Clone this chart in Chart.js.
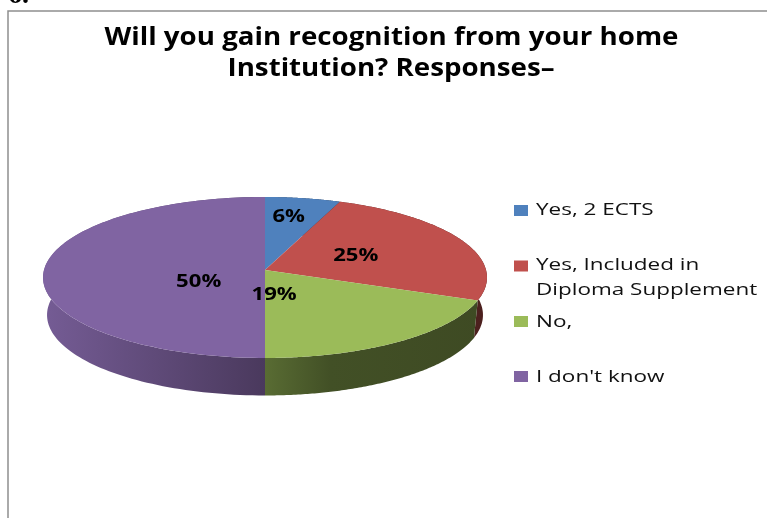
<!DOCTYPE html>
<html><head><meta charset="utf-8">
<style>html,body{margin:0;padding:0;background:#fff;overflow:hidden}canvas{display:block;filter:blur(.4px)}</style>
<script src="https://cdn.jsdelivr.net/npm/chart.js@4"></script></head>
<body><canvas id="c" width="767" height="518"></canvas>
<script>
const categories = [["Yes, 2 ECTS"], ["Yes, Included in", "Diploma Supplement"], ["No,"], ["I don't know"]];
const seriesValues = [6, 25, 19, 50];
const seriesColors = ["#4f81bd", "#c0504d", "#9bbb59", "#8064a2"];
const titleLines = ["Will you gain recognition from your home", "Institution? Responses\u2013"];

// perspective of the tilted disc
const P = { a: 79.8, b: 0.093, c: 221, depth: 37.5, shrink: 0.982 };
function project(el, u, v) {
  const d = 1 - P.b * v;
  return [el.x + P.c * u / d, el.y + P.a * v / d];
}
function rim(el, ang) { return project(el, Math.cos(ang), Math.sin(ang)); }
function shade(hex, f) {
  const n = parseInt(hex.slice(1), 16);
  return `rgb(${((n>>16)&255)*f|0},${((n>>8)&255)*f|0},${(n&255)*f|0})`;
}
const labelStyle = [
  { r: .74, dx: -5, dy: 1 }, { r: .46, dx: -1, dy: 0 }, { r: .3, dx: -29, dy: 5 }, { r: .3, dx: 0, dy: 12 }
];
const legendRows = [{ y: 210.5, sw: 210.5 }, { y: 266, sw: 266 }, { y: 322.5, sw: 321.5 }, { y: 377.5, sw: 376.5 }];
const titleCenters = [391.5, 391];

function stretched(ctx, text, x, y, sx, align) {
  ctx.save();
  ctx.translate(x, y);
  ctx.scale(sx, 1);
  ctx.textAlign = align;
  ctx.textBaseline = "middle";
  ctx.fillText(text, 0, 0);
  ctx.restore();
}

const pie3d = {
  id: "pie3d",
  beforeDatasetsDraw(chart) {
    const ctx = chart.ctx;
    const arcs = chart.getDatasetMeta(0).data;
    const stops = [[43, .92], [265, .58], [330, .43], [487, .40]];
    arcs.forEach((el, i) => {
      const col = chart.data.datasets[0].backgroundColor[i];
      const g = ctx.createLinearGradient(43, 0, 487, 0);
      stops.forEach(s => g.addColorStop((s[0] - 43) / 444, shade(col, s[1])));
      const top = [], bottom = [];
      for (let t = 0; t <= 120; t++) {
        const ang = el.startAngle + (el.endAngle - el.startAngle) * t / 120;
        const p = rim(el, ang);
        top.push(p);
        bottom.push([el.x + (p[0] - el.x) * P.shrink, p[1] + P.depth]);
      }
      ctx.beginPath();
      top.forEach((p, k) => k ? ctx.lineTo(p[0], p[1]) : ctx.moveTo(p[0], p[1]));
      bottom.reverse().forEach(p => ctx.lineTo(p[0], p[1]));
      ctx.closePath();
      ctx.fillStyle = g;
      ctx.fill();
    });
    arcs.forEach((el, i) => {
      ctx.beginPath();
      ctx.moveTo(el.x, el.y);
      for (let t = 0; t <= 120; t++) {
        const p = rim(el, el.startAngle + (el.endAngle - el.startAngle) * t / 120);
        ctx.lineTo(p[0], p[1]);
      }
      ctx.closePath();
      ctx.fillStyle = chart.data.datasets[0].backgroundColor[i];
      ctx.fill();
    });
    return false;
  },
  afterDraw(chart) {
    const ctx = chart.ctx;
    const arcs = chart.getDatasetMeta(0).data;
    ctx.save();
    // frame
    ctx.strokeStyle = "#8e8e8e";
    ctx.lineWidth = 1.5;
    ctx.beginPath();
    ctx.moveTo(8, 518); ctx.lineTo(8, 11); ctx.lineTo(767, 11);
    ctx.stroke();
    // clipped heading of the page above the chart
    ctx.fillStyle = "#000";
    ctx.font = "bold 28px 'Liberation Serif'";
    ctx.textAlign = "left";
    ctx.textBaseline = "alphabetic";
    ctx.fillText("6.", 8, 3);
    // title
    ctx.font = "bold 24.5px 'Open Sans'";
    titleLines.forEach((t, i) => stretched(ctx, t, titleCenters[i], 38 + i * 31, 1.13, "center"));
    // slice labels
    ctx.font = "bold 17px 'Open Sans'";
    arcs.forEach((el, i) => {
      const s = labelStyle[i];
      const mid = (el.startAngle + el.endAngle) / 2;
      const p = project(el, s.r * Math.cos(mid), s.r * Math.sin(mid));
      stretched(ctx, seriesValues[i] + "%", p[0] + s.dx, p[1] + s.dy, 1.3, "center");
    });
    // legend
    ctx.font = "15.5px 'Open Sans'";
    categories.forEach((lines, i) => {
      const r = legendRows[i];
      ctx.fillStyle = seriesColors[i];
      ctx.fillRect(514, r.sw - 5.5, 14, 11);
      ctx.fillStyle = "#111";
      lines.forEach((ln, k) => stretched(ctx, ln, 536, r.y + k * 24.5, 1.45, "left"));
    });
    ctx.restore();
  }
};

new Chart(document.getElementById("c"), {
  type: "pie",
  data: { labels: categories, datasets: [{ data: seriesValues, backgroundColor: seriesColors, borderWidth: 0 }] },
  options: {
    responsive: false,
    animation: false,
    layout: { padding: { left: 44, right: 281, top: 49, bottom: 27 } },
    plugins: { legend: { display: false }, title: { display: false }, tooltip: { enabled: false } }
  },
  plugins: [pie3d]
});
</script></body></html>
